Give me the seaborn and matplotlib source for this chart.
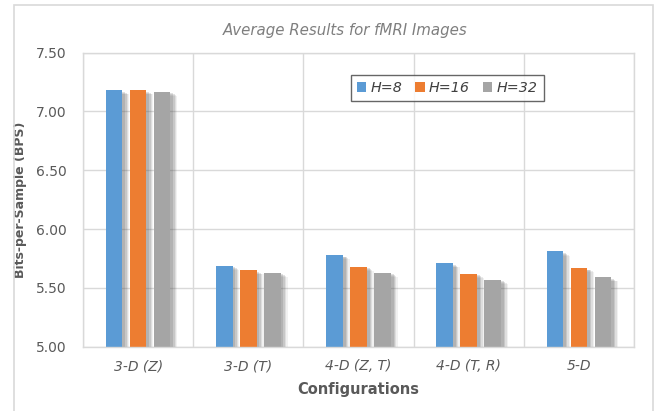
import matplotlib
matplotlib.use("Agg")
import matplotlib.pyplot as plt
import matplotlib.patheffects as pe
from matplotlib.patches import Patch, Rectangle
import pandas as pd
import seaborn as sns

# Average bits-per-sample for each configuration and history length H
configurations = ["3-D (Z)", "3-D (T)", "4-D (Z, T)", "4-D (T, R)", "5-D"]
series_names = ["H=8", "H=16", "H=32"]
bps_h8 = [7.18, 5.69, 5.78, 5.71, 5.81]
bps_h16 = [7.18, 5.65, 5.68, 5.62, 5.67]
bps_h32 = [7.17, 5.63, 5.63, 5.57, 5.59]
y_ticks = [5.00, 5.50, 6.00, 6.50, 7.00, 7.50]

colors = ["#5B9BD5", "#ED7D31", "#A5A5A5"]

df = pd.DataFrame({
    "Configuration": configurations * 3,
    "Series": sum([[s] * len(configurations) for s in series_names], []),
    "BPS": bps_h8 + bps_h16 + bps_h32,
})

sns.set_theme(style="white")
plt.rcParams["font.family"] = ["DejaVu Sans"]

fig = plt.figure(figsize=(6.55, 4.11), dpi=100)
ax = fig.add_axes([83 / 655, 1 - 346.7 / 411, 551 / 655, 294 / 411])

sns.barplot(data=df, x="Configuration", y="BPS", hue="Series",
            order=configurations, hue_order=series_names,
            palette=colors, width=0.655, gap=0.31, ax=ax,
            legend=False, saturation=1, edgecolor="none", linewidth=0)

# soft drop shadow built from several faint offset layers
shadow = [pe.SimplePatchShadow(offset=(o, -o * 0.6), shadow_rgbFace="#555555", alpha=a)
          for o, a in [(5, 0.08), (4, 0.12), (3, 0.16), (2, 0.18)]]
shadow.append(pe.Normal())
for bar in ax.patches:
    bar.set_path_effects(shadow)

ax.set_ylim(5.0, 7.5)
ax.set_yticks(y_ticks)
ax.set_yticklabels([f"{v:.2f}" for v in y_ticks], color="#595959", fontsize=10)
ax.set_xlim(-0.5, len(configurations) - 0.5)
ax.set_xticks(range(len(configurations)))
ax.set_xticklabels(configurations, style="italic", color="#595959", fontsize=10)
ax.tick_params(axis="both", length=0)
ax.tick_params(axis="y", pad=12)
ax.tick_params(axis="x", pad=9)

# horizontal gridlines at ticks, vertical separators between categories
for v in y_ticks:
    ax.axhline(v, color="#d9d9d9", linewidth=1, zorder=0)
for i in range(len(configurations) + 1):
    ax.axvline(i - 0.5, color="#d9d9d9", linewidth=1, zorder=0)
for s in ax.spines.values():
    s.set_color("#d9d9d9")
    s.set_linewidth(1)

ax.set_xlabel("Configurations", fontsize=10.5, fontweight="bold", color="#595959", labelpad=6)
ax.set_ylabel("Bits-per-Sample (BPS)", fontsize=9, fontweight="bold", color="#595959")
ax.yaxis.set_label_coords(-0.102, 0.5)

fig.text(345 / 655, 1 - 30 / 411, "Average Results for fMRI Images",
         ha="center", va="center", fontsize=10.8, style="italic", color="#7f7f7f")

handles = [Patch(facecolor=c, edgecolor="none") for c in colors]
leg = ax.legend(handles, series_names, loc="center", bbox_to_anchor=(0.661, 0.88),
                ncol=3, frameon=True, fancybox=False, edgecolor="#404040",
                handlelength=0.65, handleheight=0.65, handletextpad=0.3,
                columnspacing=0.9, borderpad=0.45,
                prop={"style": "italic", "size": 10.3})
leg.get_frame().set_linewidth(1.0)
for t in leg.get_texts():
    t.set_color("#404040")

# outer chart border
fig.patches.append(Rectangle((14 / 655, -0.05), (653 - 14) / 655, 1 - 5 / 411 + 0.05,
                             transform=fig.transFigure, fill=False,
                             edgecolor="#d9d9d9", linewidth=1.2))

fig.savefig("out.png", dpi=100)
